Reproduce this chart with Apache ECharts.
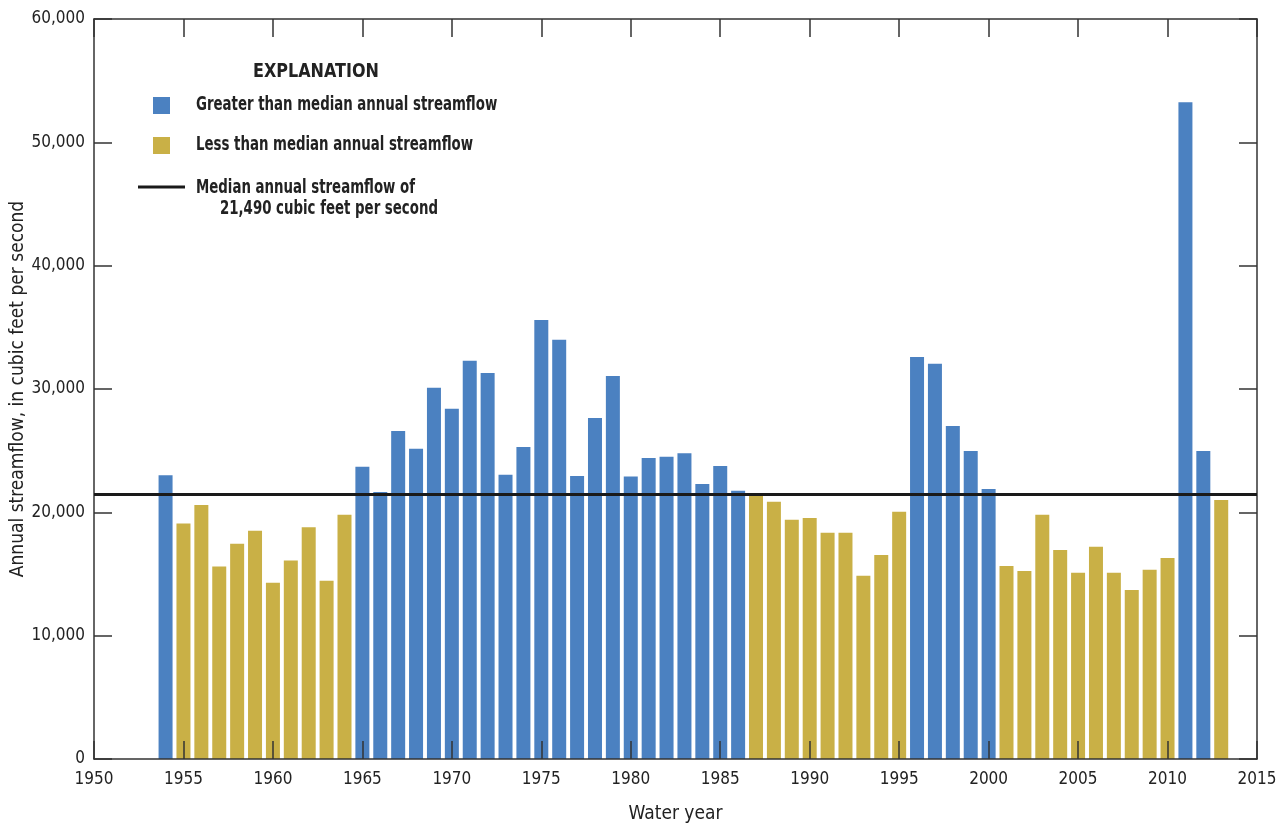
<!DOCTYPE html>
<html><head><meta charset="utf-8">
<script src="https://cdn.jsdelivr.net/npm/echarts@6/dist/echarts.min.js"></script>
<style>html,body{margin:0;padding:0;background:#fff}#c{width:1284px;height:827px}</style>
</head><body><div id="c"></div>
<script>
const years = [1954,1955,1956,1957,1958,1959,1960,1961,1962,1963,1964,1965,1966,1967,1968,1969,1970,1971,1972,1973,1974,1975,1976,1977,1978,1979,1980,1981,1982,1983,1984,1985,1986,1987,1988,1989,1990,1991,1992,1993,1994,1995,1996,1997,1998,1999,2000,2001,2002,2003,2004,2005,2006,2007,2008,2009,2010,2011,2012,2013];
const flows = [23000,19100,20600,15600,17450,18500,14300,16100,18800,14450,19800,23700,21650,26600,25150,30100,28400,32300,31300,23050,25300,35600,34000,22950,27650,31050,22900,24400,24500,24800,22300,23750,21750,21400,20850,19400,19550,18350,18350,14850,16550,20050,32600,32050,27000,24980,21900,15650,15250,19800,16950,15100,17200,15100,13700,15350,16300,53250,24980,21000];
const median = 21490;
const xTicks = [1950,2015,5];
const yTicks = [0,60000,10000];
const legendLabels = ['EXPLANATION','Greater than median annual streamflow','Less than median annual streamflow','Median annual streamflow of','21,490 cubic feet per second'];

const FONT = '"Liberation Sans Narrow","DejaVu Sans Condensed","Liberation Sans",sans-serif';
const BLUE = '#4B81C1', GOLD = '#C9B046', AX = '#333';
const chart = echarts.init(document.getElementById('c'));
const tickStyle = {show:true, inside:true, length:18, lineStyle:{color:AX,width:1.5}};
const lineStyle = {show:true,onZero:false,lineStyle:{color:AX,width:1.5}};
function lg(text, x, y, size, sx){
  return {type:'text',x:x,y:y,scaleX:sx,z:20,
    style:{text:text,fontFamily:FONT,fontSize:size,fontWeight:'bold',fill:'#222',verticalAlign:'middle'}};
}
chart.setOption({
  animation:false,
  grid:{left:94,right:27,top:19,bottom:68,containLabel:false,outerBoundsMode:'none'},
  xAxis:[{type:'value',min:xTicks[0],max:xTicks[1],interval:xTicks[2],z:5,
    axisLine:lineStyle,axisTick:tickStyle,splitLine:{show:false},
    axisLabel:{color:'#222',fontFamily:FONT,fontSize:17,margin:12,formatter:v=>String(v)},
    name:'Water year',nameLocation:'middle',nameGap:46,nameMoveOverlap:false,
    nameTextStyle:{color:'#222',fontFamily:FONT,fontSize:19}},
   {type:'value',position:'top',min:xTicks[0],max:xTicks[1],interval:xTicks[2],z:5,
    axisLine:lineStyle,axisTick:tickStyle,axisLabel:{show:false},splitLine:{show:false}}],
  yAxis:[{type:'value',min:yTicks[0],max:yTicks[1],interval:yTicks[2],z:5,
    axisLine:lineStyle,axisTick:tickStyle,splitLine:{show:false},
    axisLabel:{color:'#222',fontFamily:FONT,fontSize:17,margin:9,formatter:v=>v.toLocaleString('en-US')},
    name:'Annual streamflow, in cubic feet per second',nameLocation:'middle',nameGap:66,nameMoveOverlap:false,
    nameTextStyle:{color:'#222',fontFamily:FONT,fontSize:19}},
   {type:'value',position:'right',min:yTicks[0],max:yTicks[1],interval:yTicks[2],z:5,
    axisLine:lineStyle,axisTick:tickStyle,axisLabel:{show:false},splitLine:{show:false}}],
  series:[{type:'bar',barWidth:14,
    data:years.map((y,i)=>[y,flows[i]]),
    itemStyle:{color:p=>p.value[1]>median?BLUE:GOLD},
    markLine:{silent:true,symbol:'none',label:{show:false},z:6,
      lineStyle:{color:'#1a1a1a',width:3,type:'solid'},data:[{yAxis:median}]}}],
  graphic:[
    lg(legendLabels[0],253,72,20,0.89),
    {type:'rect',shape:{x:153,y:97,width:17,height:17},style:{fill:BLUE}},
    lg(legendLabels[1],196,105.5,19,0.78),
    {type:'rect',shape:{x:153,y:137,width:17,height:17},style:{fill:GOLD}},
    lg(legendLabels[2],196,145.5,19,0.78),
    {type:'line',shape:{x1:138,y1:187,x2:185,y2:187},style:{stroke:'#1a1a1a',lineWidth:3}},
    lg(legendLabels[3],196,188,19,0.78),
    lg(legendLabels[4],220,209,19,0.78)
  ]
});
</script></body></html>
